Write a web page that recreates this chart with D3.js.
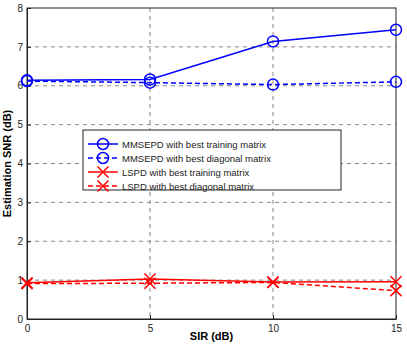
<!DOCTYPE html>
<html>
<head>
<meta charset="utf-8">
<script src="https://cdn.jsdelivr.net/npm/d3@7"></script>
<style>
  body { margin: 0; background: #fff; }
  svg { display: block; font-family: "Liberation Sans", Arial, sans-serif; }
</style>
</head>
<body>
<svg width="407" height="347"></svg>
<script>
// data
const sir = [0, 5, 10, 15];
const mmsepdTrain = [6.14, 6.16, 7.14, 7.44];
const mmsepdDiag = [6.12, 6.08, 6.03, 6.10];
const lspdTrain = [0.93, 1.03, 0.95, 0.96];
const lspdDiag = [0.91, 0.92, 0.94, 0.73];
const xTicks = [0, 5, 10, 15];
const yTicks = [0, 1, 2, 3, 4, 5, 6, 7, 8];

const series = [
  { name: "MMSEPD with best training matrix", values: mmsepdTrain, color: "#0000ff", dash: null, marker: "circle" },
  { name: "MMSEPD with best diagonal matrix", values: mmsepdDiag, color: "#0000ff", dash: "5,3", marker: "circle" },
  { name: "LSPD with best training matrix", values: lspdTrain, color: "#ff0000", dash: null, marker: "x" },
  { name: "LSPD with best diagonal matrix", values: lspdDiag, color: "#ff0000", dash: "5,3", marker: "x" }
];

const svg = d3.select("svg");
const plotL = 27, plotR = 396, plotT = 8, plotB = 319;

const x = d3.scaleLinear().domain([0, 15]).range([plotL, plotR]);
const y = d3.scaleLinear().domain([0, 8]).range([plotB, plotT]);

// grid lines
svg.append("g").selectAll("line")
  .data(xTicks.slice(1, -1))
  .enter().append("line")
  .attr("x1", d => x(d)).attr("x2", d => x(d))
  .attr("y1", plotT).attr("y2", plotB)
  .attr("stroke", "#888").attr("stroke-dasharray", "4,4");

svg.append("g").selectAll("line")
  .data(yTicks.slice(1, -1))
  .enter().append("line")
  .attr("x1", plotL).attr("x2", plotR)
  .attr("y1", d => y(d)).attr("y2", d => y(d))
  .attr("stroke", "#888").attr("stroke-dasharray", "4,4");

// axes
const xAxis = svg.append("g")
  .attr("transform", `translate(0,${plotB})`)
  .call(d3.axisBottom(x).tickValues(xTicks).tickSizeInner(-4).tickSizeOuter(0).tickPadding(6));
const yAxis = svg.append("g")
  .attr("transform", `translate(${plotL},0)`)
  .call(d3.axisLeft(y).tickValues(yTicks).tickSizeInner(-4).tickSizeOuter(0).tickPadding(4));
[xAxis, yAxis].forEach(a => {
  a.selectAll("text").attr("font-size", 10).attr("fill", "#222")
    .attr("font-family", "Liberation Sans, Arial, sans-serif");
  a.selectAll("line, path").attr("stroke", "#222");
});

// box
svg.append("rect")
  .attr("x", plotL).attr("y", plotT)
  .attr("width", plotR - plotL).attr("height", plotB - plotT)
  .attr("fill", "none").attr("stroke", "#222");

// lines and markers
const line = d3.line().x((d, i) => x(sir[i])).y(d => y(d));

function drawMarker(g, type, cx, cy, color) {
  if (type === "circle") {
    g.append("circle").attr("cx", cx).attr("cy", cy).attr("r", 5.5)
      .attr("fill", "none").attr("stroke", color).attr("stroke-width", 1.5);
  } else {
    const s = 5.5;
    g.append("path")
      .attr("d", `M${cx - s},${cy - s}L${cx + s},${cy + s}M${cx - s},${cy + s}L${cx + s},${cy - s}`)
      .attr("stroke", color).attr("stroke-width", 1.5);
  }
}

series.forEach(s => {
  const g = svg.append("g");
  g.append("path").datum(s.values)
    .attr("d", line)
    .attr("fill", "none")
    .attr("stroke", s.color)
    .attr("stroke-width", 1.5)
    .attr("stroke-dasharray", s.dash);
  s.values.forEach((v, i) => drawMarker(g, s.marker, x(sir[i]), y(v), s.color));
});

// legend
const lg = svg.append("g");
lg.append("rect").attr("x", 83).attr("y", 130).attr("width", 258).attr("height", 60)
  .attr("fill", "#fff").attr("stroke", "#222");
series.forEach((s, i) => {
  const ly = 144 + i * 14;
  lg.append("line").attr("x1", 88).attr("x2", 118).attr("y1", ly).attr("y2", ly)
    .attr("stroke", s.color).attr("stroke-width", 1.5).attr("stroke-dasharray", s.dash);
  drawMarker(lg, s.marker, 103, ly, s.color);
  lg.append("text").attr("x", 122).attr("y", ly + 3.5)
    .attr("font-size", 9.5).attr("fill", "#222").text(s.name);
});

// axis titles
svg.append("text").attr("x", (plotL + plotR) / 2).attr("y", 340)
  .attr("text-anchor", "middle").attr("font-size", 11).attr("font-weight", "bold")
  .text("SIR (dB)");
svg.append("text")
  .attr("transform", `translate(11,${(plotT + plotB) / 2}) rotate(-90)`)
  .attr("text-anchor", "middle").attr("font-size", 11).attr("font-weight", "bold")
  .text("Estimation SNR (dB)");
</script>
</body>
</html>
